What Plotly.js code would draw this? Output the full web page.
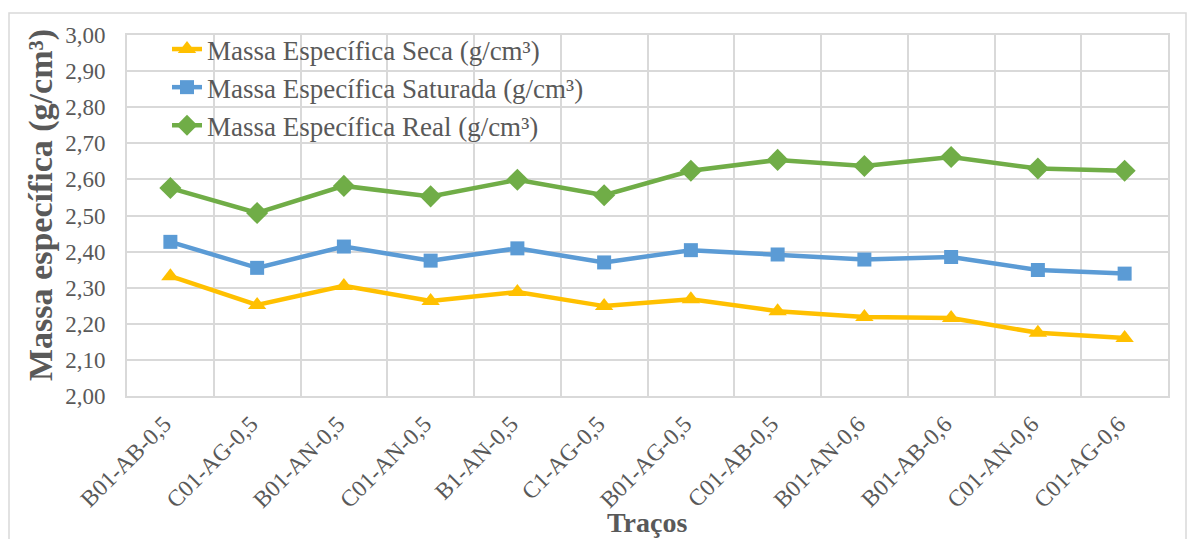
<!DOCTYPE html>
<html>
<head>
<meta charset="utf-8">
<script src="https://cdn.plot.ly/plotly-3.0.1.min.js"></script>
<style>
html,body{margin:0;padding:0;background:#fff;}
#chart{width:1194px;height:539px;}
</style>
</head>
<body>
<div id="chart"></div>
<script>
const categories = ["B01-AB-0,5","C01-AG-0,5","B01-AN-0,5","C01-AN-0,5","B1-AN-0,5","C1-AG-0,5","B01-AG-0,5","C01-AB-0,5","B01-AN-0,6","B01-AB-0,6","C01-AN-0,6","C01-AG-0,6"];
const seca = [2.332,2.252,2.305,2.263,2.288,2.249,2.268,2.235,2.219,2.216,2.175,2.161];
const saturada = [2.427,2.355,2.414,2.375,2.409,2.370,2.404,2.392,2.378,2.385,2.349,2.339];
const real = [2.576,2.507,2.582,2.553,2.599,2.556,2.624,2.654,2.637,2.662,2.630,2.624];
const seriesNames = ["Massa Específica Seca (g/cm³)","Massa Específica Saturada (g/cm³)","Massa Específica Real (g/cm³)"];
const xTitle = "Traços";
const yTitle = "Massa específica (g/cm³)";

const font = "Liberation Serif, Times New Roman, serif";
const grey = "#595959";
const grid = "#d9d9d9";

function tr(y, name, color, symbol, size){
  return {x: categories, y: y, name: name, type: "scatter", mode: "lines+markers",
    line: {color: color, width: 4.5}, marker: {color: color, symbol: symbol, size: size}};
}
const data = [
  tr(seca, seriesNames[0], "#FFC000", "triangle-up", 16),
  tr(saturada, seriesNames[1], "#5B9BD5", "square", 14),
  tr(real, seriesNames[2], "#70AD47", "diamond", 17)
];

const L = 127, R = 26, T = 35, B = 143;
const pw = 1194 - L - R, ph = 539 - T - B;
const bottomPx = 539 - B;
const px = v => (v - L) / pw;
const py = v => (bottomPx - v) / ph;
const layout = {
  width: 1194, height: 539,
  margin: {l: L, r: R, t: T, b: B, pad: 0},
  paper_bgcolor: "#fff", plot_bgcolor: "#fff",
  separators: ",.",
  font: {family: font, color: grey, size: 22},
  showlegend: true,
  legend: {x: px(167), y: py(25), xanchor: "left", yanchor: "top", bgcolor: "rgba(0,0,0,0)",
    font: {family: font, size: 27, color: grey}},
  xaxis: {type: "category", range: [-0.5, 11.5], tickson: "boundaries", ticks: "",
    showgrid: true, gridcolor: grid, gridwidth: 2, showline: true, linecolor: grid, linewidth: 2, mirror: true,
    tickangle: -45, tickfont: {family: font, size: 23.5, color: grey}, zeroline: false,
    ticklabelstandoff: 3, ticklabelshift: -6},
  yaxis: {range: [2, 3], dtick: 0.1, tick0: 2, tickformat: ".2f", ticks: "",
    showgrid: true, gridcolor: grid, gridwidth: 2, showline: true, linecolor: grid, linewidth: 2, mirror: true,
    zeroline: false, tickfont: {family: font, size: 23, color: grey}, ticklabelstandoff: 15},
  annotations: [
    {text: "<b>" + yTitle + "</b>", xref: "paper", yref: "paper", x: px(41), y: py(205),
      xanchor: "center", yanchor: "middle", textangle: -90, showarrow: false,
      font: {family: font, size: 34, color: grey}},
    {text: "<b>" + xTitle + "</b>", xref: "paper", yref: "paper", x: px(647), y: py(522),
      xanchor: "center", yanchor: "middle", showarrow: false,
      font: {family: font, size: 28, color: grey}}
  ],
  shapes: [{type: "rect", xref: "paper", yref: "paper",
    x0: px(9), x1: px(1186), y0: py(545), y1: py(13),
    line: {color: "#d9d9d9", width: 1.5}, fillcolor: "rgba(0,0,0,0)", layer: "below"}]
};

Plotly.newPlot("chart", data, layout, {displayModeBar: false, staticPlot: true});
</script>
</body>
</html>
